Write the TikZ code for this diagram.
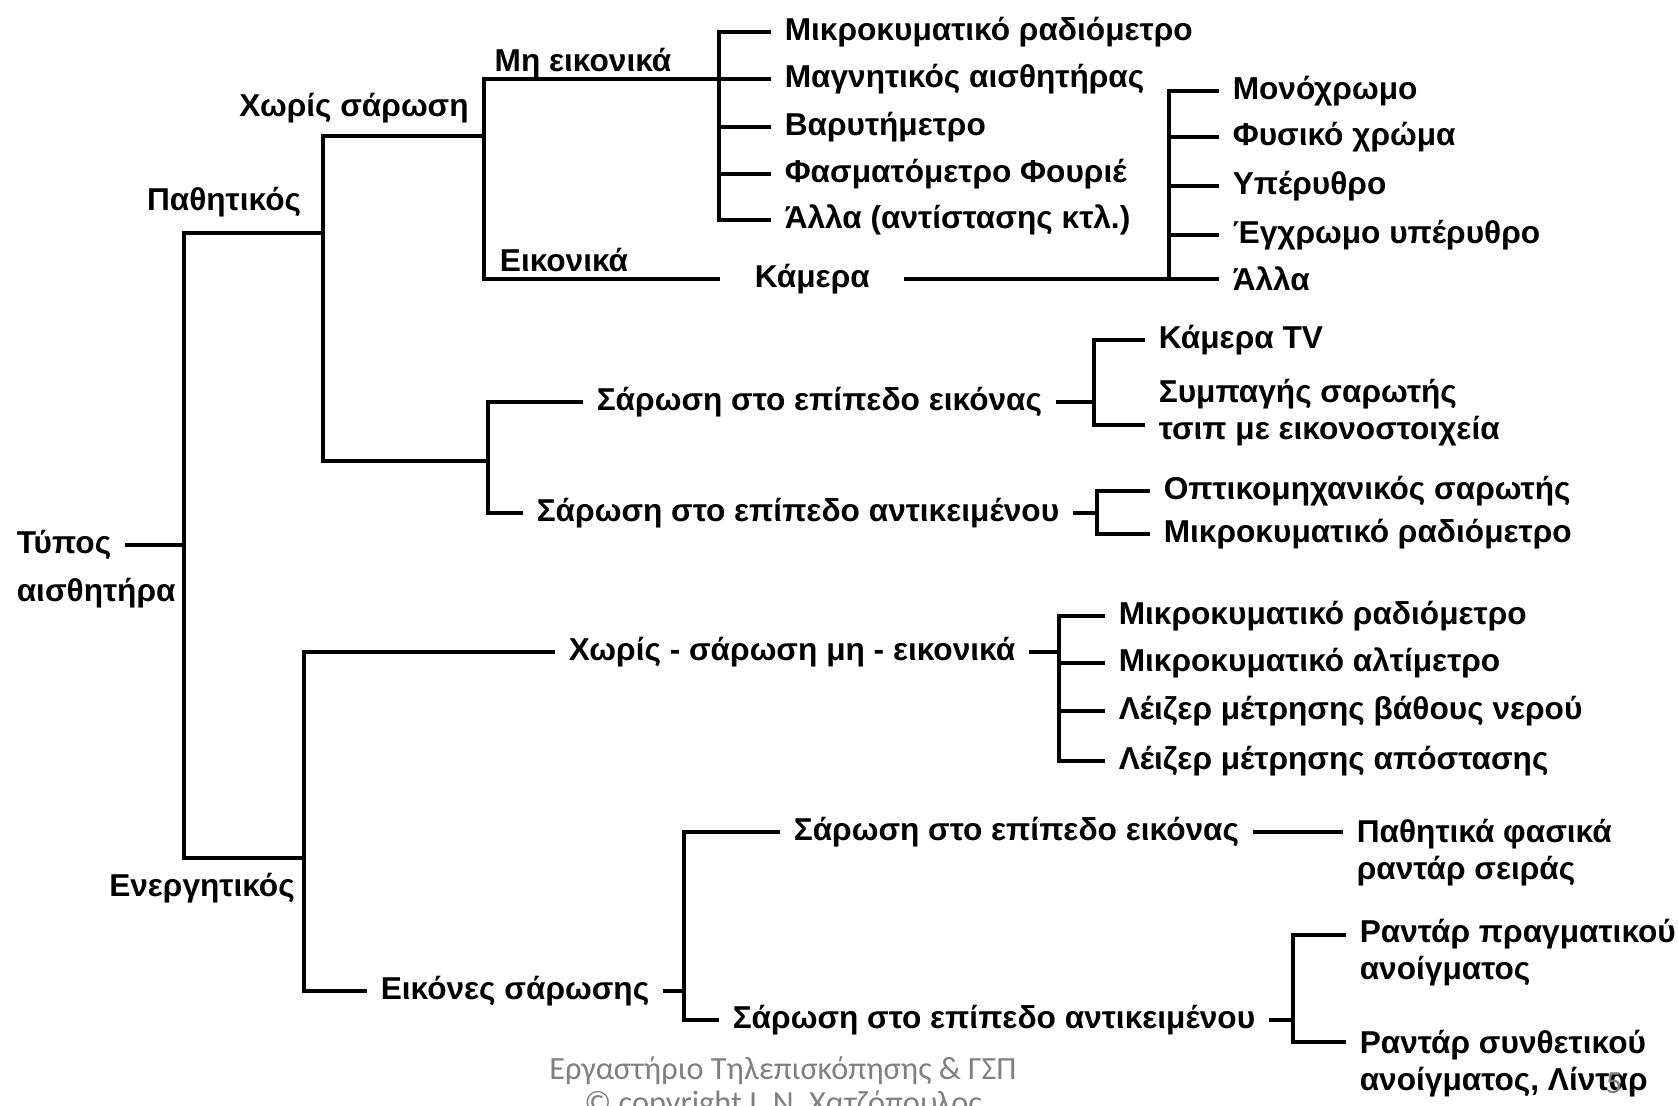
\documentclass[tikz,border=0pt]{standalone}
\usepackage{fontspec}
\setmainfont{Liberation Sans}
\newfontfamily\footfont{Carlito}
\definecolor{footgray}{RGB}{128,128,128}

\begin{document}
\begin{tikzpicture}[scale=1.0, font=\fontsize{9}{10.5}\selectfont\bfseries, line width=1pt,
  lbl/.style={inner xsep=1.2mm, inner ysep=1pt, anchor=west},
  twoline/.style={lbl, align=left},
  foot/.style={font=\footfont\fontsize{9.2}{11}\selectfont, color=footgray}]
\useasboundingbox (0,0) rectangle (16.78,11.05);
% --- root: sensor type ---
\node[lbl] (typos) at (0.03,5.60) {Τύπος};
\node[lbl] (aisth) at (0.03,5.12) {αισθητήρα};
\node (pathlbl) at (2.24,9.03) {Παθητικός};
\node (energlbl) at (2.02,2.17) {Ενεργητικός};
\coordinate (pas) at (3.23,8.72);
\coordinate (act) at (3.04,2.47);
\coordinate (rootbus) at (1.84,5.60);
\draw (pas) -| (rootbus) |- (act);
\draw (typos.east) -- (rootbus);
% --- passive, no scanning ---
\node (nscanlbl) at (3.54,9.97) {Χωρίς σάρωση};
\node (nimglbl) at (5.83,10.42) {Μη εικονικά};
\node (imglbl) at (5.64,8.45) {Εικονικά};
\coordinate (nscan) at (4.84,9.69);
\coordinate (scan) at (4.88,6.44);
\draw (nscan) -| (pas) |- (scan);
\node[lbl] (ni1) at (7.71,10.73) {Μικροκυματικό ραδιόμετρο};
\node[lbl] (ni2) at (7.71,10.26) {Μαγνητικός αισθητήρας};
\node[lbl] (ni3) at (7.71,9.78) {Βαρυτήμετρο};
\node[lbl] (ni4) at (7.71,9.31) {Φασματόμετρο Φουριέ};
\node[lbl] (ni5) at (7.71,8.85) {Άλλα (αντίστασης κτλ.)};
\node[lbl, inner xsep=3.3mm] (cam) at (7.20,8.26) {Κάμερα};
\draw (ni2.west) -| (nscan) |- (cam.west);
\coordinate (nibus) at (7.19,8.85);
\draw (ni1.west) -| (nibus) -- (ni5.west);
\foreach \i in {3,4} \draw (ni\i.west) -- (ni\i.west -| nibus);
% camera colour modes
\node[lbl] (co1) at (12.19,10.14) {Μονόχρωμο};
\node[lbl] (co2) at (12.19,9.68) {Φυσικό χρώμα};
\node[lbl] (co3) at (12.19,9.19) {Υπέρυθρο};
\node[lbl] (co4) at (12.19,8.70) {Έγχρωμο υπέρυθρο};
\node[lbl] (co5) at (12.19,8.26) {Άλλα};
\coordinate (cobus) at (11.69,8.26);
\draw (cam.east) -- (co5.west);
\draw (co1.west) -| (cobus);
\foreach \i in {2,3,4} \draw (co\i.west) -- (co\i.west -| cobus);
% --- passive, scanning ---
\node[lbl] (psie) at (5.83,7.03) {Σάρωση στο επίπεδο εικόνας};
\node[lbl] (psao) at (5.23,5.92) {Σάρωση στο επίπεδο αντικειμένου};
\draw (psie.west) -| (scan) |- (psao.west);
\node[lbl] (tv) at (11.45,7.65) {Κάμερα TV};
\node[twoline] (ccd) at (11.45,6.92) {Συμπαγής σαρωτής\\τσιπ με εικονοστοιχεία};
\coordinate (tvbus) at (10.94,6.80);
\draw (tv.west) -| (tvbus) -- (tvbus -| ccd.west);
\draw (psie.east) -- (psie.east -| tvbus);
\node[lbl] (opt) at (11.50,6.14) {Οπτικομηχανικός σαρωτής};
\node[lbl] (prad) at (11.50,5.71) {Μικροκυματικό ραδιόμετρο};
\coordinate (objbus) at (10.97,5.71);
\draw (opt.west) -| (objbus) -- (prad.west);
\draw (psao.east) -- (psao.east -| objbus);
% --- active ---
\node[lbl] (nsni) at (5.55,4.53) {Χωρίς - σάρωση μη - εικονικά};
\node[lbl] (eik) at (3.67,1.14) {Εικόνες σάρωσης};
\draw (nsni.west) -| (act) |- (eik.west);
\node[lbl] (ns1) at (11.05,4.89) {Μικροκυματικό ραδιόμετρο};
\node[lbl] (ns2) at (11.05,4.42) {Μικροκυματικό αλτίμετρο};
\node[lbl] (ns3) at (11.05,3.94) {Λέιζερ μέτρησης βάθους νερού};
\node[lbl] (ns4) at (11.05,3.44) {Λέιζερ μέτρησης απόστασης};
\coordinate (nsbus) at (10.59,3.44);
\draw (ns1.west) -| (nsbus) -- (ns4.west);
\foreach \i in {2,3} \draw (ns\i.west) -- (ns\i.west -| nsbus);
\draw (nsni.east) -- (nsni.east -| nsbus);
% scanning images
\node[lbl] (asie) at (7.80,2.73) {Σάρωση στο επίπεδο εικόνας};
\node[lbl] (asao) at (7.19,0.85) {Σάρωση στο επίπεδο αντικειμένου};
\coordinate (eikbus) at (6.84,1.14);
\draw (asie.west) -| (eikbus) |- (asao.west);
\draw (eik.east) -- (eikbus);
\node[twoline] (phased) at (13.43,2.52) {Παθητικά φασικά\\ραντάρ σειράς};
\draw (asie.east) -- (asie.east -| phased.west);
\node[twoline] (rar) at (13.46,1.52) {Ραντάρ πραγματικού\\ανοίγματος};
\node[twoline] (sar) at (13.46,0.41) {Ραντάρ συνθετικού\\ανοίγματος, Λίνταρ};
\coordinate (radtop) at (12.93,1.70);
\coordinate (radbot) at (12.93,0.63);
\draw (radtop -| rar.west) -- (radtop) -- (radbot) -- (radbot -| sar.west);
\draw (asao.east) -- (asao.east -| radtop);
% footer
\node[foot] (lab) at (7.83,0.34) {Εργαστήριο Τηλεπισκόπησης \& ΓΣΠ};
\node[foot] (copy) at (7.83,0.00) {© copyright I. N. Χατζόπουλος};
\node[foot] (pagenum) at (16.14,0.22) {5};
\end{tikzpicture}
\end{document}
